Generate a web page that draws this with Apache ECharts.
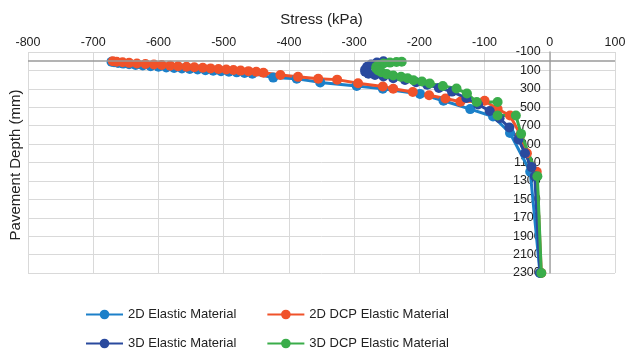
<!DOCTYPE html>
<html>
<head>
<meta charset="utf-8">
<script src="https://cdn.jsdelivr.net/npm/echarts@6/dist/echarts.min.js"></script>
<style>html,body{margin:0;padding:0;background:#fff;}#c{width:630px;height:350px;}</style>
</head>
<body>
<div id="c"></div>
<script>
// Series names
var seriesNames = ['2D Elastic Material', '2D DCP Elastic Material', '3D Elastic Material', '3D DCP Elastic Material'];

// 2D Elastic Material
var e2dStress = [-672,-668,-662,-654,-645,-635,-624,-612,-600,-588,-576,-564,-552,-540,-528,-516,-504,-492,-480,-468,-456,-424,-388,-352,-296,-256,-199,-163,-122,-87,-61,-30,-15];
var e2dDepth  = [5,12,19,26,33,40,47,54,61,67,73,79,85,91,97,103,109,115,121,127,135,178,190,230,268,300,355,430,520,600,780,1200,2300];

// 2D DCP Elastic Material
var d2dStress = [-670,-664,-655,-645,-633,-620,-607,-595,-582,-570,-557,-545,-532,-520,-508,-496,-485,-474,-462,-450,-439,-413,-386,-355,-326,-294,-256,-240,-210,-185,-160,-137,-100,-80,-61,-45,-35,-20,-13];
var d2dDepth  = [0,6,12,18,24,30,36,42,48,54,60,66,72,78,84,90,96,102,108,114,125,150,170,190,200,240,275,300,335,370,405,440,430,520,590,800,1000,1200,2300];

// 3D Elastic Material
var e3dStress = [-255,-265,-274,-280,-283,-283,-278,-268,-255,-240,-222,-205,-188,-170,-150,-128,-110,-92,-77,-62,-48,-38,-28,-23,-15];
var e3dDepth  = [0,15,35,60,90,115,135,150,165,185,205,228,255,290,330,400,470,540,620,720,850,1000,1150,1250,2300];

// 3D DCP Elastic Material
var d3dStress = [-227,-235,-245,-255,-262,-266,-266,-263,-258,-250,-240,-228,-218,-209,-196,-184,-164,-143,-127,-112,-80,-80,-52,-44,-19,-13];
var d3dDepth  = [5,8,15,25,40,60,80,100,120,140,155,170,185,206,220,242,270,297,351,443,443,589,589,789,1250,2300];

// Axis ticks
var xMin = -800, xMax = 100, xStep = 100;
var yMin = -100, yMax = 2300, yStep = 200;

function zip(a, b) { return a.map(function (v, i) { return [v, b[i]]; }); }

var colors = ['#1c80c9', '#f0522a', '#2a4a9e', '#3aad4a'];
var dataSets = [zip(e2dStress, e2dDepth), zip(d2dStress, d2dDepth), zip(e3dStress, e3dDepth), zip(d3dStress, d3dDepth)];

var series = dataSets.map(function (d, i) {
  var s = {
    name: seriesNames[i],
    type: 'line',
    data: d,
    symbol: 'circle',
    symbolSize: 10,
    showAllSymbol: true,
    animation: false,
    itemStyle: { color: colors[i] },
    lineStyle: { color: colors[i], width: 3 }
  };
  if (i === 0) {
    s.markLine = {
      silent: true, symbol: ['none', 'none'], label: { show: false },
      lineStyle: { color: '#9a9a9a', type: 'solid', width: 1.5 },
      data: [{ yAxis: 0 }], animation: false
    };
  }
  return s;
});

var gridLeft = 28, gridRight = 15, chartW = 630;
var plotW = chartW - gridLeft - gridRight;
var zeroOffset = -(plotW * (xMax - 0) / (xMax - xMin));

var chart = echarts.init(document.getElementById('c'), null, { renderer: 'canvas' });
var legendCommon = {
  itemWidth: 37, itemHeight: 12, itemGap: 30,
  textStyle: { fontFamily: 'Liberation Sans, Arial', fontSize: 13, color: '#222' }
};
chart.setOption({
  backgroundColor: '#fff',
  color: colors,
  grid: { left: gridLeft, right: gridRight, top: 52, bottom: 77 },
  xAxis: {
    type: 'value', position: 'top', min: xMin, max: xMax, interval: xStep,
    name: 'Stress (kPa)', nameLocation: 'middle', nameGap: 25,
    nameTextStyle: { fontFamily: 'Liberation Sans, Arial', fontSize: 15, color: '#222' },
    axisLine: { show: false, onZero: false },
    axisTick: { show: false },
    axisLabel: { margin: 3, fontFamily: 'Liberation Sans, Arial', fontSize: 12.5, color: '#222' },
    splitLine: { show: true, lineStyle: { color: '#d9d9d9', width: 1 } }
  },
  yAxis: {
    type: 'value', inverse: true, min: yMin, max: yMax, interval: yStep,
    position: 'right', offset: zeroOffset,
    axisLine: { show: true, onZero: false, lineStyle: { color: '#a6a6a6', width: 1.5 } },
    axisTick: { show: false },
    axisLabel: { inside: true, margin: 9, fontFamily: 'Liberation Sans, Arial', fontSize: 12.5, color: '#222',
      formatter: function (v) { return String(v); } },
    splitLine: { show: true, lineStyle: { color: '#d9d9d9', width: 1 } }
  },
  legend: [
    Object.assign({ left: 80, top: 303, data: [seriesNames[0], seriesNames[1]] }, legendCommon),
    Object.assign({ left: 80, top: 332, data: [seriesNames[2], seriesNames[3]] }, legendCommon)
  ],
  graphic: [{
    type: 'text', x: 16, y: 165,
    rotation: Math.PI / 2,
    style: { text: 'Pavement Depth (mm)', font: '15px "Liberation Sans", Arial', fill: '#222',
      align: 'center', verticalAlign: 'middle' }
  }],
  series: series
});
</script>
</body>
</html>
